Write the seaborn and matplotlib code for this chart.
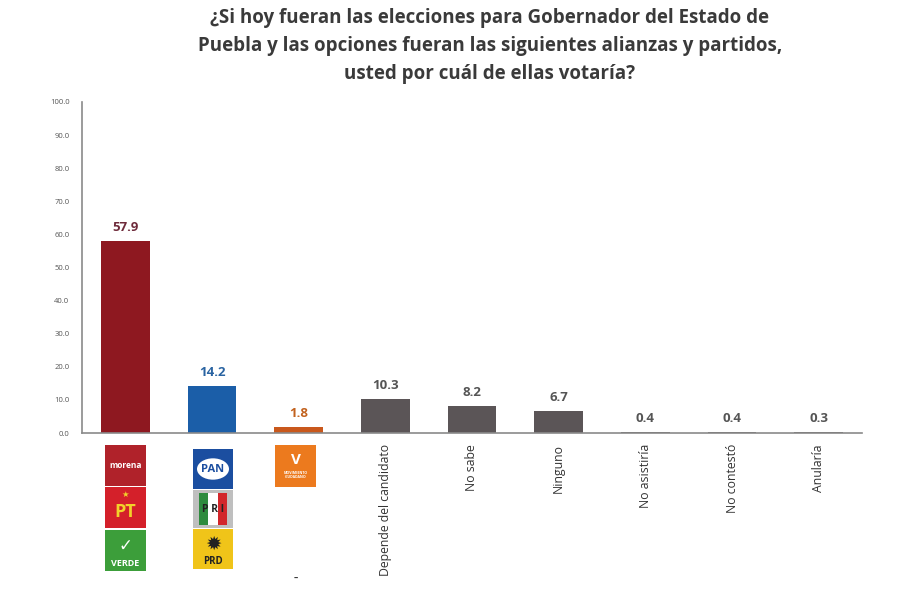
import matplotlib
matplotlib.use("Agg")
import matplotlib.pyplot as plt
import seaborn as sns
import pandas as pd
from matplotlib.patches import Rectangle, Circle

categories = ["MORENA-PT-PVEM", "PAN-PRI-PRD", "MC", "Depende del candidato", "No sabe",
              "Ninguno", "No asistiría", "No contestó", "Anularía"]
tick_labels = ["", "", "", "Depende del candidato", "No sabe", "Ninguno",
               "No asistiría", "No contestó", "Anularía"]
values = [57.9, 14.2, 1.8, 10.3, 8.2, 6.7, 0.4, 0.4, 0.3]
bar_colors = ["#8E1820", "#1B5EA8", "#C9581C", "#5B5557", "#5B5557", "#5B5557",
              "#5B5557", "#5B5557", "#5B5557"]
label_colors = ["#6E2A3A", "#2A64A2", "#C2621E", "#555555", "#555555", "#555555",
                "#555555", "#555555", "#555555"]
yticks = [0, 10, 20, 30, 40, 50, 60, 70, 80, 90, 100]
title = ("¿Si hoy fueran las elecciones para Gobernador del Estado de\n"
         "Puebla y las opciones fueran las siguientes alianzas y partidos,\n"
         "usted por cuál de ellas votaría?")

sns.set_theme(style="white")
plt.rcParams["font.family"] = ["Open Sans", "DejaVu Sans"]

df = pd.DataFrame({"cat": categories, "val": values})

fig = plt.figure(figsize=(9, 6), dpi=100)
fig.patch.set_facecolor("white")
ax = fig.add_axes([82/900, 1-433/600, 780/900, 331/600])

sns.barplot(data=df, x="cat", y="val", hue="cat", palette=bar_colors, legend=False,
            width=0.56, ax=ax, saturation=1, edgecolor="none")

ax.set_ylim(0, 100)
ax.set_xlim(-0.5, len(categories) - 0.5)
ax.set_yticks(yticks)
ax.set_yticklabels([f"{t:.1f}" for t in yticks], fontsize=5.5, color="#555555")
ax.set_xticks(range(len(categories)))
ax.set_xticklabels(tick_labels, rotation=90, fontsize=8.8, color="#333333", va="top")
ax.tick_params(axis="x", length=0, pad=8)
ax.tick_params(axis="y", length=0, pad=9)
ax.set_xlabel("")
ax.set_ylabel("")
for s in ["top", "right"]:
    ax.spines[s].set_visible(False)
for s in ["left", "bottom"]:
    ax.spines[s].set_color("#8a8a8a")
    ax.spines[s].set_linewidth(1.2)

for i, (v, c) in enumerate(zip(values, label_colors)):
    ax.annotate(f"{v:.1f}", (i, v), xytext=(0, 5), textcoords="offset points",
                ha="center", va="bottom", fontsize=9.5, fontweight="bold", color=c)

fig.text(490/900, 1-8/600, title, ha="center", va="top", fontsize=13.5,
         fontweight="bold", color="#3a3a3a", linespacing=1.52)

# party logos (decorative)
def box(x0, y0, w, h, color):
    fig.patches.append(Rectangle((x0/900, 1-(y0+h)/600), w/900, h/600,
                                 transform=fig.transFigure, facecolor=color,
                                 edgecolor="none", zorder=5))

def txt(x, y, s, color, size, **kw):
    fig.text(x/900, 1-y/600, s, ha="center", va="center", color=color,
             fontsize=size, fontweight="bold", zorder=6, **kw)

# morena
box(105, 445, 41, 41, "#B0222A")
txt(125.5, 465, "morena", "white", 6)
# PT
box(105, 487, 41, 41, "#D4202A")
txt(125.5, 494, "★", "#F2D22A", 6)
txt(125.5, 512, "PT", "#F2D22A", 13)
# VERDE
box(105, 530, 41, 41, "#3C9E3A")
txt(125.5, 546, "✓", "white", 12)
txt(125.5, 564, "VERDE", "white", 6.5)
# PAN
box(193, 449, 40, 40, "#1B4EA0")
fig.patches.append(Circle((213/900, 1-469/600), 16/900, transform=fig.transFigure,
                          facecolor="white", edgecolor="none", zorder=5))
txt(213, 469, "PAN", "#1B4EA0", 8)
# PRI
box(193, 490, 40, 38, "#BFBFBF")
box(199, 493, 9, 32, "#2E8B3E")
box(208, 493, 10, 32, "white")
box(218, 493, 9, 32, "#D2262B")
txt(213, 509, "P R I", "#222222", 7.5)
# PRD
box(193, 529, 40, 40, "#F0C419")
txt(213, 545, "✹", "#222222", 14)
txt(213, 562, "PRD", "#222222", 7)
# MC
box(275, 445, 41, 42, "#EC7A1E")
txt(295.5, 460, "V", "white", 11)
txt(295.5, 475, "MOVIMIENTO\nCIUDADANO", "white", 2.5)
txt(296, 578, "–", "#333333", 6)

fig.savefig("out.png", dpi=100, facecolor="white")
